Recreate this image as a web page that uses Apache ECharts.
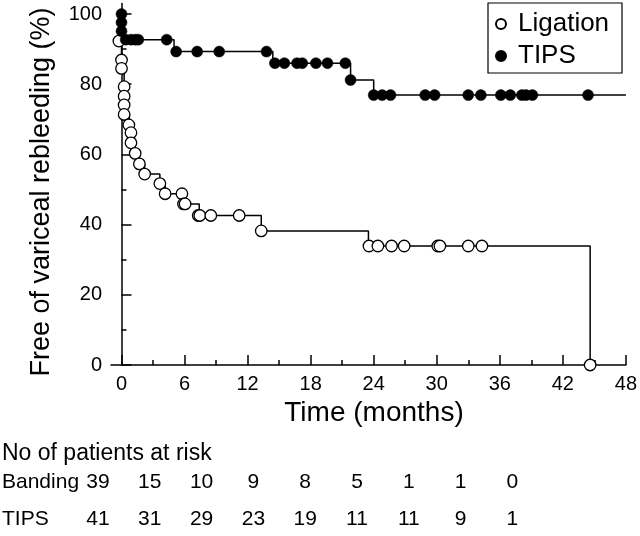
<!DOCTYPE html>
<html>
<head>
<meta charset="utf-8">
<script src="https://cdn.jsdelivr.net/npm/echarts@6/dist/echarts.min.js"></script>
<style>
html,body{margin:0;padding:0;background:#fff;}
#chart{width:640px;height:536px;}
</style>
</head>
<body>
<div id="chart"></div>
<script>
// ---- data ----
const xTickLabels = [0, 6, 12, 18, 24, 30, 36, 42, 48];
const xMinorTicks = [3, 9, 15, 21, 27, 33, 39, 45];
const yTickLabels = [0, 20, 40, 60, 80, 100];
const yMinorTicks = [10, 30, 50, 70, 90];

// Kaplan-Meier step curves (time in months, % free of rebleeding)
const ligationCurveT = [0, 0, 0.25, 0.75, 1.3, 1.7, 2.2, 3.65, 4.15, 5.9, 7.4, 13.3, 23.5, 44.6];
const ligationCurveS = [100, 84.5, 71.4, 63.3, 60.3, 57.3, 54.4, 51.7, 48.8, 45.9, 42.6, 38.2, 33.9, 0];
const tipsCurveT = [0, 0.15, 5.0, 14.4, 21.8, 24.0, 48];
const tipsCurveS = [100, 92.7, 89.3, 86.0, 81.2, 76.9, 76.9];

// plotted markers
const ligationPtsT = [-0.25, 0, 0, 0.25, 0.25, 0.25, 0.25, 0.7, 0.9, 0.9, 1.3, 1.7, 2.2, 3.65, 4.15, 5.75, 5.9, 6.05, 7.3, 7.45, 8.5, 11.2, 13.3, 23.55, 24.4, 25.7, 26.9, 30.1, 30.3, 33.0, 34.3, 44.6];
const ligationPtsS = [92.3, 86.9, 84.5, 79.3, 76.6, 74.1, 71.4, 68.4, 66.2, 63.3, 60.3, 57.3, 54.4, 51.7, 48.8, 48.8, 45.9, 45.9, 42.6, 42.6, 42.6, 42.6, 38.2, 33.9, 33.9, 33.9, 33.9, 33.9, 33.9, 33.9, 33.9, 0];
const tipsPtsT = [0, 0, 0, 0.4, 0.9, 1.3, 1.6, 4.3, 5.2, 7.2, 9.3, 13.8, 14.6, 15.5, 16.7, 17.2, 18.5, 19.6, 21.3, 21.8, 24.0, 24.8, 25.6, 28.9, 29.8, 33.0, 34.2, 36.1, 37.0, 38.1, 38.5, 39.1, 44.4];
const tipsPtsS = [100, 97.6, 95.1, 92.7, 92.7, 92.7, 92.7, 92.7, 89.3, 89.3, 89.3, 89.3, 86.0, 86.0, 86.0, 86.0, 86.0, 86.0, 86.0, 81.2, 76.9, 76.9, 76.9, 76.9, 76.9, 76.9, 76.9, 76.9, 76.9, 76.9, 76.9, 76.9, 76.9];

// numbers at risk
const riskHeader = 'No of patients at risk';
const riskRowNames = ['Banding', 'TIPS'];
const bandingAtRisk = [39, 15, 10, 9, 8, 5, 1, 1, 0];
const tipsAtRisk = [41, 31, 29, 23, 19, 11, 11, 9, 1];

// ---- chart ----
const FONT = '"Liberation Sans", Arial, Helvetica, sans-serif';
const zip = (a, b) => a.map((v, i) => [v, b[i]]);

const graphics = [];
graphics.push({
  type: 'text', x: 42, y: 192, rotation: Math.PI / 2,
  style: { text: 'Free of variceal rebleeding (%)', x: 0, y: 0, align: 'center', verticalAlign: 'middle', fontSize: 27, fontFamily: FONT, fill: '#000' }
});
graphics.push({
  type: 'text', x: 374, y: 413,
  style: { text: 'Time (months)', x: 0, y: 0, align: 'center', verticalAlign: 'middle', fontSize: 28, fontFamily: FONT, fill: '#000' }
});
graphics.push({
  type: 'text', x: 2, y: 454,
  style: { text: riskHeader, x: 0, y: 0, align: 'left', verticalAlign: 'middle', fontSize: 23, fontFamily: FONT, fill: '#000' }
});
const rowY = [482, 519];
const colX0 = 98, colStep = 51.8;
[bandingAtRisk, tipsAtRisk].forEach((row, r) => {
  graphics.push({
    type: 'text', x: 2, y: rowY[r],
    style: { text: riskRowNames[r], x: 0, y: 0, align: 'left', verticalAlign: 'middle', fontSize: 21, fontFamily: FONT, fill: '#000' }
  });
  row.forEach((v, i) => {
    graphics.push({
      type: 'text', x: colX0 + i * colStep, y: rowY[r],
      style: { text: String(v), x: 0, y: 0, align: 'center', verticalAlign: 'middle', fontSize: 21, fontFamily: FONT, fill: '#000' }
    });
  });
});

const axisLineStyle = { color: '#000', width: 1.5 };
const chart = echarts.init(document.getElementById('chart'), null, { renderer: 'canvas' });
chart.setOption({
  animation: false,
  backgroundColor: '#fff',
  textStyle: { fontFamily: FONT },
  grid: { left: 111, right: 12, top: 3.5, bottom: 171 },
  legend: {
    data: ['Ligation', 'TIPS'],
    orient: 'vertical',
    left: 488, top: 3,
    borderColor: '#000', borderWidth: 1.2, borderRadius: 0,
    padding: [6, 10, 2, 7],
    itemWidth: 24, itemHeight: 10, itemGap: 2,
    symbolKeepAspect: true,
    icon: 'circle',
    textStyle: { fontSize: 26, lineHeight: 30, width: 94, color: '#000', fontFamily: FONT }
  },
  xAxis: [{
    type: 'value', min: -1, max: 48,
    axisLine: { show: true, lineStyle: axisLineStyle },
    axisTick: { show: true, inside: true, length: 10, lineStyle: axisLineStyle, customValues: xTickLabels },
    axisLabel: { show: true, customValues: xTickLabels, fontSize: 20, color: '#000', margin: 9, fontFamily: FONT },
    splitLine: { show: false }
  }, {
    type: 'value', min: -1, max: 48, position: 'bottom',
    axisLine: { show: false },
    axisTick: { show: true, inside: true, length: 5, lineStyle: axisLineStyle, customValues: xMinorTicks },
    axisLabel: { show: false, customValues: xMinorTicks },
    splitLine: { show: false }
  }],
  yAxis: [{
    type: 'value', min: 0, max: 103,
    axisLine: { show: true, lineStyle: axisLineStyle },
    axisTick: { show: true, inside: true, length: 10, lineStyle: axisLineStyle, customValues: yTickLabels },
    axisLabel: { show: true, customValues: yTickLabels, fontSize: 20, color: '#000', margin: 9, fontFamily: FONT },
    splitLine: { show: false }
  }, {
    type: 'value', min: 0, max: 103, position: 'left',
    axisLine: { show: false },
    axisTick: { show: true, inside: true, length: 5, lineStyle: axisLineStyle, customValues: yMinorTicks },
    axisLabel: { show: false, customValues: yMinorTicks },
    splitLine: { show: false }
  }],
  series: [
    { name: 'Ligation curve', type: 'line', step: 'end', data: zip(ligationCurveT, ligationCurveS), symbol: 'none', lineStyle: { color: '#000', width: 1.5 }, z: 2 },
    { name: 'TIPS curve', type: 'line', step: 'end', data: zip(tipsCurveT, tipsCurveS), symbol: 'none', lineStyle: { color: '#000', width: 1.5 }, z: 2 },
    { name: 'Ligation', type: 'scatter', data: zip(ligationPtsT, ligationPtsS), symbol: 'circle', symbolSize: 11.5, itemStyle: { color: '#fff', borderColor: '#000', borderWidth: 1.3, opacity: 1 }, z: 3 },
    { name: 'TIPS', type: 'scatter', data: zip(tipsPtsT, tipsPtsS), symbol: 'circle', symbolSize: 11, itemStyle: { color: '#000', borderColor: '#000', borderWidth: 0.5, opacity: 1 }, z: 4 }
  ],
  graphic: graphics
});
</script>
</body>
</html>
